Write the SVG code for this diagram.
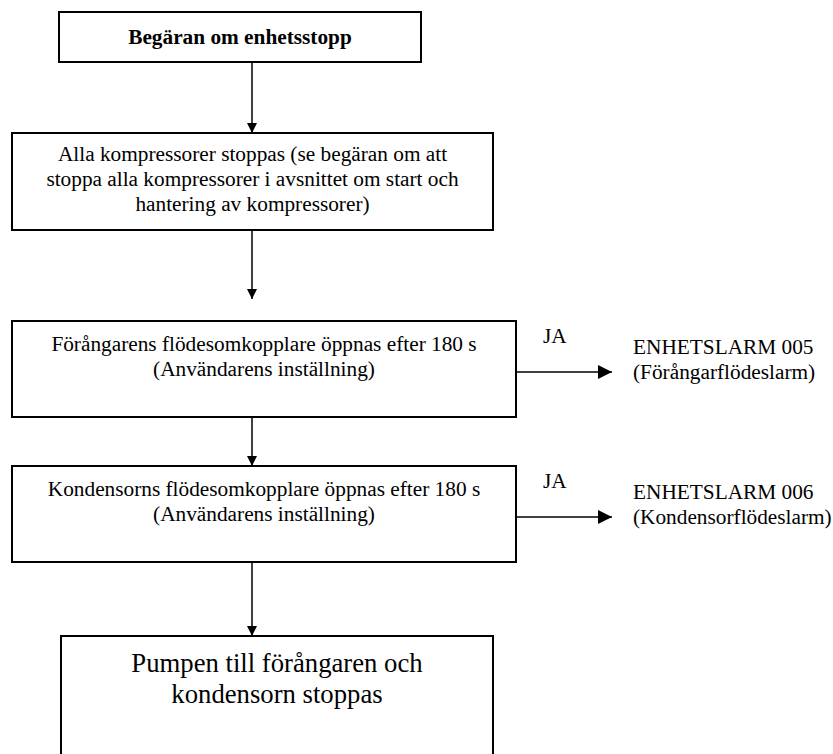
<svg xmlns="http://www.w3.org/2000/svg" width="833" height="754" viewBox="0 0 833 754">
<style>
  .box { fill: #ffffff; stroke: #000000; stroke-width: 2; }
  .t { font-family: "Liberation Serif", "Times New Roman", serif; font-size: 21.3px; fill: #000000; }
  .c { text-anchor: middle; }
  .b { font-weight: bold; }
  .big { font-size: 26.7px; }
  .conn { stroke: #000000; stroke-width: 1.5; fill: none; }
</style>
<defs>
  <marker id="ah" viewBox="0 0 10 10" refX="10" refY="5" markerUnits="userSpaceOnUse" markerWidth="10" markerHeight="10" orient="auto">
    <path d="M0,0 L10,5 L0,10 z" fill="#000000"/>
  </marker>
  <marker id="ahL" viewBox="0 0 14 14" refX="14" refY="7" markerUnits="userSpaceOnUse" markerWidth="14" markerHeight="14" orient="auto">
    <path d="M0,0 L14,7 L0,14 z" fill="#000000"/>
  </marker>
</defs>
<rect width="833" height="754" fill="#ffffff"/>
<g id="connectors">
  <line class="conn" x1="252" y1="62" x2="252" y2="133" marker-end="url(#ah)"/>
  <line class="conn" x1="252" y1="230" x2="252" y2="299" marker-end="url(#ah)"/>
  <line class="conn" x1="252" y1="417" x2="252" y2="466" marker-end="url(#ah)"/>
  <line class="conn" x1="252" y1="562" x2="252" y2="636" marker-end="url(#ah)"/>
  <line class="conn" x1="516" y1="372" x2="612" y2="372" stroke-width="2" marker-end="url(#ahL)"/>
  <line class="conn" x1="516" y1="517" x2="612" y2="517" stroke-width="2" marker-end="url(#ahL)"/>
  <text class="t" x="543" y="343">JA</text>
  <text class="t" x="543" y="488">JA</text>
</g>
<g id="n1">
  <rect class="box" x="59" y="12" width="362" height="50"/>
  <text class="t c b" x="240" y="44">Begäran om enhetsstopp</text>
</g>
<g id="n2">
  <rect class="box" x="12" y="133" width="481" height="97"/>
  <text class="t c" x="252.5" y="161">Alla kompressorer stoppas (se begäran om att</text>
  <text class="t c" x="252.5" y="186">stoppa alla kompressorer i avsnittet om start och</text>
  <text class="t c" x="252.5" y="211">hantering av kompressorer)</text>
</g>
<g id="n3">
  <rect class="box" x="12" y="321" width="504" height="96"/>
  <text class="t c" x="264" y="351">Förångarens flödesomkopplare öppnas efter 180 s</text>
  <text class="t c" x="264" y="376">(Användarens inställning)</text>
</g>
<g id="n4">
  <rect class="box" x="12" y="466" width="504" height="96"/>
  <text class="t c" x="264" y="496">Kondensorns flödesomkopplare öppnas efter 180 s</text>
  <text class="t c" x="264" y="521">(Användarens inställning)</text>
</g>
<g id="n5">
  <rect class="box" x="61" y="636" width="432" height="130"/>
  <text class="t c big" x="277" y="672">Pumpen till förångaren och</text>
  <text class="t c big" x="277" y="703">kondensorn stoppas</text>
</g>
<g id="a1">
  <text class="t" x="633" y="354">ENHETSLARM 005</text>
  <text class="t" x="633" y="379">(Förångarflödeslarm)</text>
</g>
<g id="a2">
  <text class="t" x="633" y="499">ENHETSLARM 006</text>
  <text class="t" x="633" y="524">(Kondensorflödeslarm)</text>
</g>
</svg>
